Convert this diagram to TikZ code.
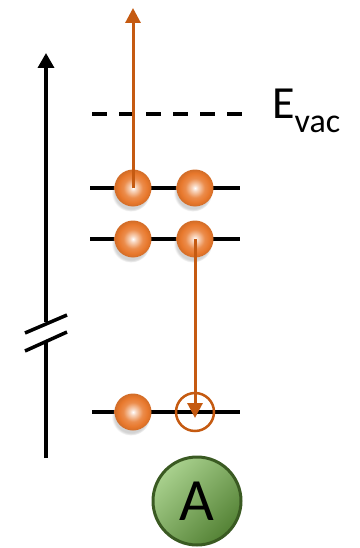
\documentclass[tikz,border=0pt]{standalone}
\usepackage{fontspec}
\setmainfont{Carlito}
\usepackage{tikz}
\usetikzlibrary{arrows.meta, shadows, fadings}
\definecolor{arrowcol}{HTML}{C55A11}
\definecolor{ballcol}{HTML}{E8782C}
\definecolor{atomcol}{HTML}{70AD47}
\definecolor{atomlight}{HTML}{A9D18E}
\definecolor{atomdark}{HTML}{548235}
\definecolor{atomedge}{HTML}{3A5A22}
\pgfdeclareradialshading{ballshade}{\pgfpoint{0bp}{0bp}}{%
  color(0bp)=(white); color(4bp)=(ballcol!30!white); color(13bp)=(ballcol!85!white);
  color(20bp)=(ballcol); color(25bp)=(ballcol!90!black); color(50bp)=(ballcol!90!black)}
\tikzset{
  level/.style={line width=3.5pt, black},
  electron/.style={circle, minimum size=37pt, inner sep=0pt, shading=ballshade,
    circular drop shadow={shadow xshift=-2pt, shadow yshift=-4pt, opacity=0.35, shadow scale=1.05}},
  vacancy/.style={circle, minimum size=38pt, inner sep=0pt, draw=arrowcol, line width=2.5pt},
  jump/.style={line width=3pt, arrowcol, -{Triangle[length=15pt, width=15pt]}},
}

\begin{document}
\begin{tikzpicture}[x=1pt, y=-1pt]
  \useasboundingbox (0,0) rectangle (359,548);

  % Energy axis with a break.
  \draw[line width=3.5pt] (46,458) -- (46,341);
  \draw[line width=3.5pt, -{Triangle[length=15pt, width=16pt]}] (46,322) -- (46,53);
  \draw[line width=3.5pt] (25,333) -- (67,315);
  \draw[line width=3.5pt] (25,351) -- (67,332);

  % Vacuum level.
  \draw[level, dash pattern=on 15pt off 12pt] (92,114) -- (248,114);
  \node[anchor=base west, inner sep=0pt] (evac) at (272,119)
    {\fontsize{46}{46}\selectfont E\raisebox{-14pt}{\fontsize{34}{34}\selectfont vac}};

  % Levels.
  \draw[level] (90,188) -- (240,188);
  \draw[level] (90,239) -- (240,239);
  \draw[level] (92,412) -- (240,412);

  % Electrons and hole.
  \node[electron] (e11) at (133,188) {};
  \node[electron] (e12) at (195,188) {};
  \node[electron] (e21) at (133,239) {};
  \node[electron] (e22) at (195,239) {};
  \node[electron] (e31) at (133,412) {};
  \node[vacancy] (hole) at (195,412) {};

  % Transitions.
  \coordinate (esc) at (133,8);
  \coordinate (fill) at (195,418);
  \draw[jump] (e11.center) -- (esc);
  \draw[jump] (e22.center) -- (fill);

  % Atom label.
  \node[circle, minimum size=88pt, inner sep=0pt, draw=atomedge, line width=3pt,
    shading=axis, left color=atomlight, middle color=atomcol, right color=atomdark,
    shading angle=45] (atom) at (197,501)
    {\fontsize{60}{60}\selectfont A};

\end{tikzpicture}
\end{document}
